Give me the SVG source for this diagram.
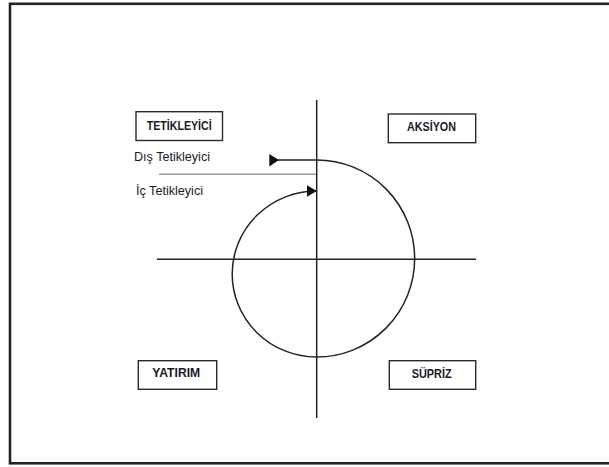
<svg xmlns="http://www.w3.org/2000/svg" width="609" height="467" viewBox="0 0 609 467">
<defs>
<style>
.box{fill:#fff;stroke:#2a2a2a;stroke-width:1.4}
.bt{font-family:"Liberation Sans",Arial,sans-serif;font-weight:bold;font-size:12px;fill:#1a1a2a;text-anchor:middle}
.lt{font-family:"Liberation Sans",Arial,sans-serif;font-size:12.4px;fill:#1a1a2a}
.ln{stroke:#222;stroke-width:1.5;fill:none}
</style>
<marker id="ah" viewBox="0 0 10 12" refX="10" refY="6" markerWidth="10" markerHeight="12" markerUnits="userSpaceOnUse" orient="auto">
<path d="M0,0 L10,6 L0,12 Z" fill="#111"/>
</marker>
</defs>
<rect x="0" y="0" width="609" height="467" fill="#fff"/>
<rect x="10" y="3.8" width="620" height="459.5" fill="none" stroke="#222" stroke-width="2.6"/>
<g id="connectors">
<line class="ln" x1="316.7" y1="100" x2="316.7" y2="418"/>
<line class="ln" x1="157" y1="259.3" x2="476" y2="259.3"/>
<line x1="159" y1="174.3" x2="316" y2="174.3" stroke="#999" stroke-width="1.6"/>
<path class="ln" d="M316.7,160 A98,98.5 0 0 1 316.7,357 A84.5,83 0 0 1 316.7,191" marker-end="url(#ah)"/>
<line class="ln" x1="316.7" y1="160" x2="276" y2="160"/>
<polygon points="269.3,154 279,160 269.3,166.5" fill="#111"/>
</g>
<g id="tetikleyici">
<rect class="box" x="136" y="111.7" width="86.5" height="28.8"/>
<text class="bt" x="179.2" y="129.6" textLength="65" lengthAdjust="spacingAndGlyphs">TETİKLEYİCİ</text>
</g>
<g id="aksiyon">
<rect class="box" x="388.3" y="114" width="87.4" height="28.7"/>
<text class="bt" x="431.5" y="131.2" textLength="49" lengthAdjust="spacingAndGlyphs">AKSİYON</text>
</g>
<g id="yatirim">
<rect class="box" x="138.3" y="360.7" width="78.4" height="28.6"/>
<text class="bt" x="176.2" y="377.4" textLength="48" lengthAdjust="spacingAndGlyphs">YATIRIM</text>
</g>
<g id="supriz">
<rect class="box" x="389.3" y="360.7" width="86.4" height="28.6"/>
<text class="bt" x="431.7" y="378.3" textLength="40" lengthAdjust="spacingAndGlyphs">SÜPRİZ</text>
</g>
<g id="dis-tetikleyici">
<text class="lt" x="134" y="160.7" textLength="76" lengthAdjust="spacingAndGlyphs">Dış Tetikleyici</text>
</g>
<g id="ic-tetikleyici">
<text class="lt" x="136" y="195" textLength="67" lengthAdjust="spacingAndGlyphs">İç Tetikleyici</text>
</g>
</svg>
